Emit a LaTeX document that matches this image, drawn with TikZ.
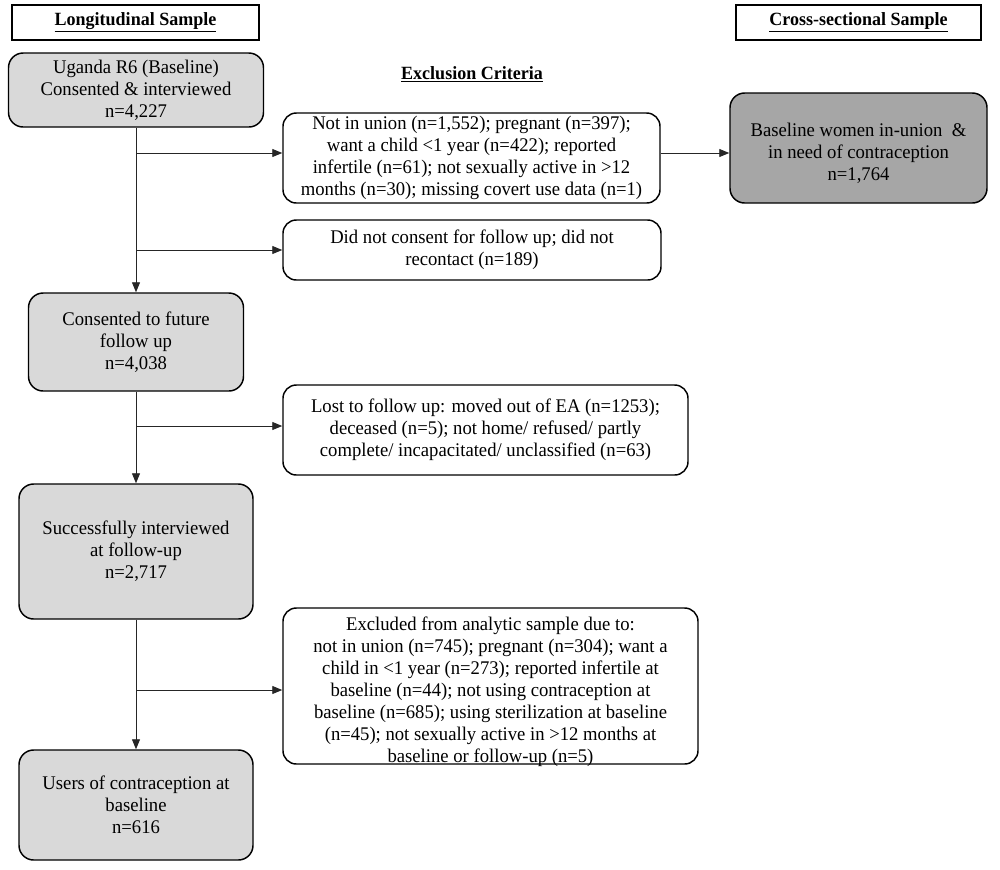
\documentclass[tikz,border=0pt]{standalone}
\usepackage{fontspec}
\setmainfont{Liberation Serif}[FakeStretch=0.965]
\usetikzlibrary{arrows.meta}
\definecolor{lightbox}{HTML}{D9D9D9}
\definecolor{darkbox}{HTML}{A6A6A6}
\begin{document}
\begin{tikzpicture}[x=0.75pt,y=-0.75pt,
  every node/.style={font=\fontsize{14.5}{16.5}\selectfont, align=center, inner sep=0pt},
  hdr/.style={draw, line width=0.8pt, font=\fontsize{14}{16.5}\selectfont\bfseries},
  graybox/.style={draw, line width=1.1pt, rounded corners=11pt, fill=lightbox},
  darkgray/.style={draw, line width=1.1pt, rounded corners=11pt, fill=darkbox},
  exbox/.style={draw, line width=1.1pt, rounded corners=10pt, fill=white},
  arr/.style={draw=black!85, line width=0.7pt, -{Triangle[length=7.5pt,width=6pt]}}
]
\useasboundingbox (0,0) rectangle (1000,869);

\node[hdr, minimum width=185.25pt, minimum height=26.25pt] (hl) at (135.5,22.5) {\underline{Longitudinal Sample}};
\node[hdr, minimum width=183.75pt, minimum height=26.25pt] (hr) at (858.5,22.5) {\underline{Cross-sectional Sample}};
\node[font=\fontsize{14}{16.5}\selectfont\bfseries] (ec) at (472,74) {\underline{Exclusion Criteria}};

\node[graybox, minimum width=191.25pt, minimum height=55.5pt] (ug) at (136,90)
  {Uganda R6 (Baseline)\\Consented \& interviewed\\n=4,227};
\node[exbox, minimum width=282.75pt, minimum height=67.5pt] (b1) at (471.5,158)
  {Not in union (n=1,552); pregnant (n=397);\\want a child <1 year (n=422); reported\\infertile (n=61); not sexually active in >12\\months (n=30); missing covert use data (n=1)};
\node[darkgray, minimum width=192.75pt, minimum height=82.5pt] (cs) at (858.5,148) {};
\node (cst) at (858.5,153) {Baseline women in-union~~\&\\in need of contraception\\n=1,764};
\node[exbox, minimum width=283.5pt, minimum height=45pt] (b2) at (472,250)
  {Did not consent for follow up; did not\\recontact (n=189)};
\node[graybox, minimum width=161.25pt, minimum height=73.5pt] (cons) at (136,342)
  {Consented to future\\follow up\\n=4,038};
\node[exbox, minimum width=303.75pt, minimum height=67.5pt] (lost) at (485.5,430)
  {Lost to follow up: moved out of EA (n=1253);\\deceased (n=5); not home/ refused/ partly\\complete/ incapacitated/ unclassified (n=63)};
\node[graybox, minimum width=175.5pt, minimum height=101.25pt] (succ) at (136,551.5)
  {Successfully interviewed\\at follow-up\\n=2,717};
\node[exbox, minimum width=311.25pt, minimum height=117pt] (excl) at (490.5,686) {};
\node (exclt) at (490.5,692)
  {Excluded from analytic sample due to:\\not in union (n=745); pregnant (n=304); want a\\child in <1 year (n=273); reported infertile at\\baseline (n=44); not using contraception at\\baseline (n=685); using sterilization at baseline\\(n=45); not sexually active in >12 months at\\baseline or follow-up (n=5)};
\node[graybox, minimum width=175.5pt, minimum height=82.5pt] (users) at (136,805)
  {Users of contraception at\\baseline\\n=616};

\draw[arr] (ug.south) -- (cons.north);
\draw[arr] (cons.south) -- (succ.north);
\draw[arr] (succ.south) -- (users.north);
\draw[arr] ([yshift=3.75pt]b1.west -| ug.south) -- ([yshift=3.75pt]b1.west);
\draw[arr] (b2.west -| ug.south) -- (b2.west);
\draw[arr] ([yshift=3pt]lost.west -| ug.south) -- ([yshift=3pt]lost.west);
\draw[arr] ([yshift=-3pt]excl.west -| ug.south) -- ([yshift=-3pt]excl.west);
\draw[arr] ([yshift=3.75pt]b1.east) -- ([yshift=3.75pt]b1.east -| cs.west);
\end{tikzpicture}
\end{document}
